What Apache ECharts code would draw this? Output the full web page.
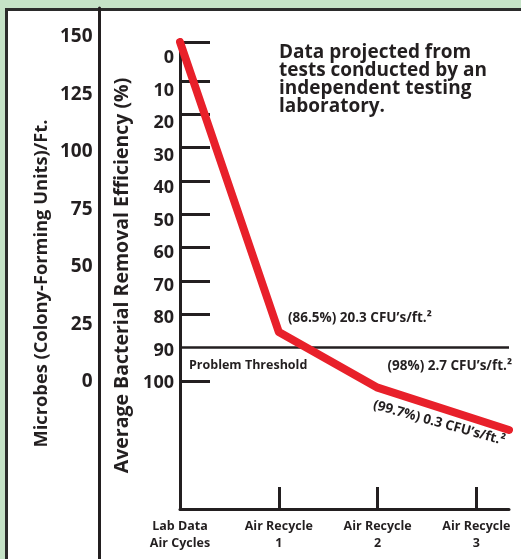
<!DOCTYPE html>
<html>
<head>
<meta charset="utf-8">
<script src="https://cdn.jsdelivr.net/npm/echarts@6/dist/echarts.min.js"></script>
<style>
  html, body { margin: 0; padding: 0; background: #c5e3c7; overflow: hidden; }
  #box { position: absolute; left: 5px; top: 8px; width: 600px; height: 600px;
         border-left: 3px solid #2b2b2b; border-top: 3px solid #2b2b2b; background: #ffffff; }
  #chart { position: absolute; left: 0; top: 0; width: 521px; height: 559px; }
</style>
</head>
<body>
<div id="box"></div>
<div id="chart"></div>
<script>
// ---- data ----
const categories = ['Lab Data\nAir Cycles', 'Air Recycle\n1', 'Air Recycle\n2', 'Air Recycle\n3'];
const categoryPositions = [0, 1, 2, 3];
const linePositions = [0, 1, 2, 3.33];
const efficiencyLine = [-1.7, 85.3, 102, 114.7];
const microbeTickLabels = [0, 25, 50, 75, 100, 125, 150];
const efficiencyTickLabels = [0, 10, 20, 30, 40, 50, 60, 70, 80, 90, 100];
const efficiencyTickMarks = [-1.7, 10, 20, 30, 40, 50, 60, 70, 80, 100];
const thresholdValue = 90;
const noteText = 'Data projected from\ntests conducted by an\nindependent testing\nlaboratory.';
const thresholdText = 'Problem Threshold';
const pointNotes = ['(86.5%) 20.3 CFU\u2019s/ft.\u00b2', '(98%) 2.7 CFU\u2019s/ft.\u00b2', '(99.7%) 0.3 CFU\u2019s/ft.\u00b2'];

const INK = '#231f20';
const FONT = '"Open Sans", sans-serif';

const chart = echarts.init(document.getElementById('chart'), null, { renderer: 'canvas' });
const option = {
  backgroundColor: 'transparent',
  animation: false,
  textStyle: { fontFamily: FONT, color: INK },
  grid: [
    { left: 99.5, top: 8, width: 1, bottom: 0 },
    { left: 180, top: 42, right: 12, bottom: 50 }
  ],
  xAxis: [
    { gridIndex: 0, type: 'value', show: false },
    {
      gridIndex: 1, type: 'value', min: 0, max: 3.33, position: 'bottom',
      axisLine: { show: true, onZero: false, lineStyle: { color: INK, width: 3 } },
      axisTick: { show: true, inside: true, length: 22, customValues: categoryPositions.slice(1), lineStyle: { color: INK, width: 3 } },
      axisLabel: {
        show: true, customValues: categoryPositions, margin: 9,
        formatter: v => categories[Math.round(v)],
        fontFamily: FONT, fontWeight: 'bold', fontSize: 12.5, lineHeight: 17, color: INK
      },
      splitLine: { show: false }
    }
  ],
  yAxis: [
    {
      gridIndex: 0, type: 'value', min: -77.2, max: 162.6, position: 'left',
      axisLine: { show: true, lineStyle: { color: INK, width: 3 } },
      axisTick: { show: false },
      splitLine: { show: false },
      axisLabel: { customValues: microbeTickLabels, margin: 7, fontFamily: FONT, fontWeight: 'bold', fontSize: 19, color: INK },
      name: 'Microbes (Colony-Forming Units)/Ft.', nameLocation: 'middle', nameRotate: 90, nameGap: 49,
      nameTextStyle: { fontFamily: FONT, fontWeight: 'bold', fontSize: 18.3, color: INK }
    },
    {
      gridIndex: 1, type: 'value', min: -1.7, max: 138.4, inverse: true, position: 'left',
      axisLine: { show: true, onZero: false, lineStyle: { color: INK, width: 3 } },
      axisTick: { show: true, inside: true, length: 30, customValues: efficiencyTickMarks, lineStyle: { color: INK, width: 3 } },
      axisLabel: { show: false },
      splitLine: { show: false }
    },
    {
      gridIndex: 1, type: 'value', min: -4.92, max: 138.77, inverse: true, position: 'left',
      axisLine: { show: false }, axisTick: { show: false }, splitLine: { show: false },
      axisLabel: { customValues: efficiencyTickLabels, margin: 6, fontFamily: FONT, fontWeight: 'bold', fontSize: 18, color: INK },
      name: 'Average Bacterial Removal Efficiency (%)', nameLocation: 'middle', nameRotate: 90, nameGap: 38,
      nameTextStyle: { fontFamily: FONT, fontWeight: 'bold', fontSize: 19.5, color: INK }
    }
  ],
  series: [
    {
      type: 'line', xAxisIndex: 1, yAxisIndex: 1, data: [], z: 2,
      markLine: {
        silent: true, symbol: 'none', label: { show: false },
        lineStyle: { color: INK, width: 2.5, type: 'solid' },
        data: [{ yAxis: thresholdValue }]
      }
    },
    {
      type: 'line', xAxisIndex: 1, yAxisIndex: 1, z: 5,
      data: linePositions.map((x, i) => [x, efficiencyLine[i]]),
      symbol: 'none',
      lineStyle: { color: '#e8202a', width: 8, cap: 'round', join: 'round' }
    }
  ],
  graphic: [
    { type: 'text', left: 279, top: 43, z: 10,
      style: { text: noteText, font: 'bold 19px ' + FONT, fill: INK, lineHeight: 18 } },
    { type: 'text', x: 189, y: 365, z: 10,
      style: { text: thresholdText, font: 'bold 12.5px ' + FONT, fill: INK, verticalAlign: 'middle' } },
    { type: 'text', x: 288, y: 318, z: 10,
      style: { text: pointNotes[0], font: 'bold 13.5px ' + FONT, fill: INK, verticalAlign: 'middle' } },
    { type: 'text', x: 512, y: 366, z: 10,
      style: { text: pointNotes[1], font: 'bold 13.5px ' + FONT, fill: INK, align: 'right', verticalAlign: 'middle' } },
    { type: 'text', x: 439, y: 423, rotation: -0.27, z: 10,
      style: { text: pointNotes[2], font: 'bold 13.5px ' + FONT, fill: INK, align: 'center', verticalAlign: 'middle' } }
  ]
};
chart.setOption(option);
</script>
</body>
</html>
